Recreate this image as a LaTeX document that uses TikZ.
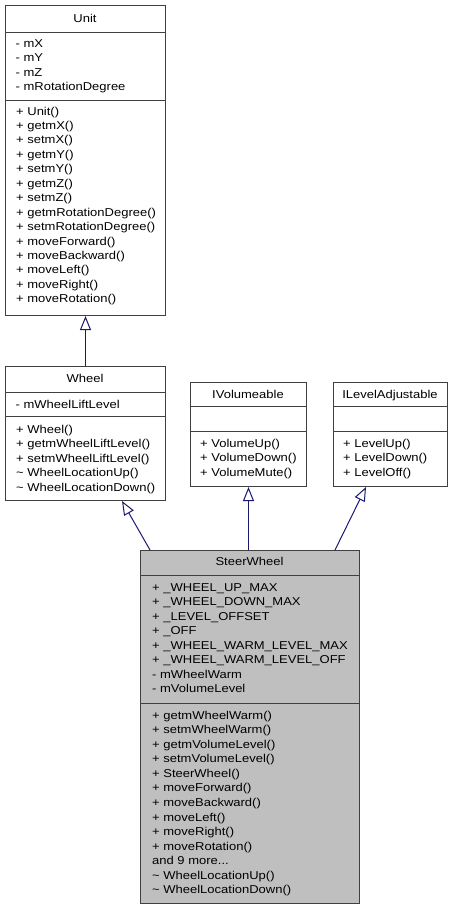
\documentclass[tikz,border=0pt]{standalone}
\usepackage{fontspec}
\setmainfont{Liberation Sans}[FakeStretch=1.14]
\usetikzlibrary{arrows.meta,calc}
\definecolor{edgeblue}{HTML}{191970}
\definecolor{boxline}{HTML}{404040}
\definecolor{steerfill}{HTML}{BFBFBF}
\newcommand{\mythreedots}{...}
\tikzset{
  classbox/.style={draw=boxline, line width=1pt, fill=white, inner sep=0pt, anchor=north west},
  sepline/.style={draw=boxline, line width=1pt},
  txt/.style={inner sep=0pt, anchor=base west, font=\fontsize{11.4}{14.5}\selectfont},
  ttl/.style={inner sep=0pt, anchor=base, font=\fontsize{11.4}{14.5}\selectfont},
  inh/.style={draw=edgeblue, line width=1pt, -{Triangle[length=14pt,width=11pt,fill=white,line width=1pt]}}
}
\begin{document}
\begin{tikzpicture}[x=1pt,y=-1pt]
\useasboundingbox (0,0) rectangle (453,911);
% ---- Unit ----
\node[classbox, minimum width=160pt, minimum height=310pt] (unit) at (5,5) {};
\draw[sepline] (5,32) -- (165,32);
\draw[sepline] (5,100) -- (165,100);
\node[ttl] (unitT) at (85,22) {Unit};
\foreach \t [count=\i] in {- mX, - mY, - mZ, - mRotationDegree}
  \node[txt] (ua\i) at (15.5,{47+14.5*(\i-1)}) {\t};
\foreach \t [count=\i] in {+ Unit(), + getmX(), + setmX(), + getmY(), + setmY(), + getmZ(), + setmZ(), + getmRotationDegree(), + setmRotationDegree(), + moveForward(), + moveBackward(), + moveLeft(), + moveRight(), + moveRotation()}
  \node[txt] (um\i) at (16,{115+14.45*(\i-1)}) {\t};
% ---- Wheel ----
\node[classbox, minimum width=160pt, minimum height=134pt] (wheel) at (5,366) {};
\draw[sepline] (5,392) -- (165,392);
\draw[sepline] (5,416) -- (165,416);
\node[ttl] (wheelT) at (85,382) {Wheel};
\node[txt] (wa1) at (15.5,408) {- mWheelLiftLevel};
\foreach \t [count=\i] in {+ Wheel(), + getmWheelLiftLevel(), + setmWheelLiftLevel(), {\textasciitilde{} WheelLocationUp()}, {\textasciitilde{} WheelLocationDown()}}
  \node[txt] (wm\i) at (16,{433+14.5*(\i-1)}) {\t};
% ---- IVolumeable ----
\node[classbox, minimum width=116pt, minimum height=104pt] (ivol) at (190,382) {};
\draw[sepline] (190,406) -- (306,406);
\draw[sepline] (190,431) -- (306,431);
\node[ttl] (ivolT) at (248,398) {IVolumeable};
\foreach \t [count=\i] in {+ VolumeUp(), + VolumeDown(), + VolumeMute()}
  \node[txt] (vm\i) at (200,{447+14.5*(\i-1)}) {\t};
% ---- ILevelAdjustable ----
\node[classbox, minimum width=114pt, minimum height=104pt] (ilev) at (333,382) {};
\draw[sepline] (333,406) -- (447,406);
\draw[sepline] (333,431) -- (447,431);
\node[ttl] (ilevT) at (390,398) {ILevelAdjustable};
\foreach \t [count=\i] in {+ LevelUp(), + LevelDown(), + LevelOff()}
  \node[txt] (lm\i) at (343,{447+14.5*(\i-1)}) {\t};
% ---- SteerWheel ----
\node[classbox, fill=steerfill, minimum width=219pt, minimum height=353pt] (steer) at (140,550) {};
\draw[sepline] (140,575) -- (359,575);
\draw[sepline] (140,703) -- (359,703);
\node[ttl] (steerT) at (249.5,565) {SteerWheel};
\foreach \t [count=\i] in {+ \_WHEEL\_UP\_MAX, + \_WHEEL\_DOWN\_MAX, + \_LEVEL\_OFFSET, + \_OFF, + \_WHEEL\_WARM\_LEVEL\_MAX, + \_WHEEL\_WARM\_LEVEL\_OFF, - mWheelWarm, - mVolumeLevel}
  \node[txt] (sa\i) at (152,{591+14.5*(\i-1)}) {\t};
\foreach \t [count=\i] in {+ getmWheelWarm(), + setmWheelWarm(), + getmVolumeLevel(), + setmVolumeLevel(), + SteerWheel(), + moveForward(), + moveBackward(), + moveLeft(), + moveRight(), + moveRotation(), and 9 more\mythreedots, {\textasciitilde{} WheelLocationUp()}, {\textasciitilde{} WheelLocationDown()}}
  \node[txt] (sm\i) at (152,{719+14.58*(\i-1)}) {\t};
% ---- connectors ----
\coordinate (s1) at ($(steer.north west)+(10,0)$);
\coordinate (w1) at ($(wheel.south west)+(117,0)$);
\coordinate (s3) at ($(steer.north west)+(195,0)$);
\coordinate (l1) at ($(ilev.south west)+(33,0)$);
\draw[inh] (wheel.north) -- (unit.south);
\draw[inh] (s1) -- (w1);
\draw[inh] (steer.north -| ivol.south) -- (ivol.south);
\draw[inh] (s3) -- (l1);
\end{tikzpicture}
\end{document}
